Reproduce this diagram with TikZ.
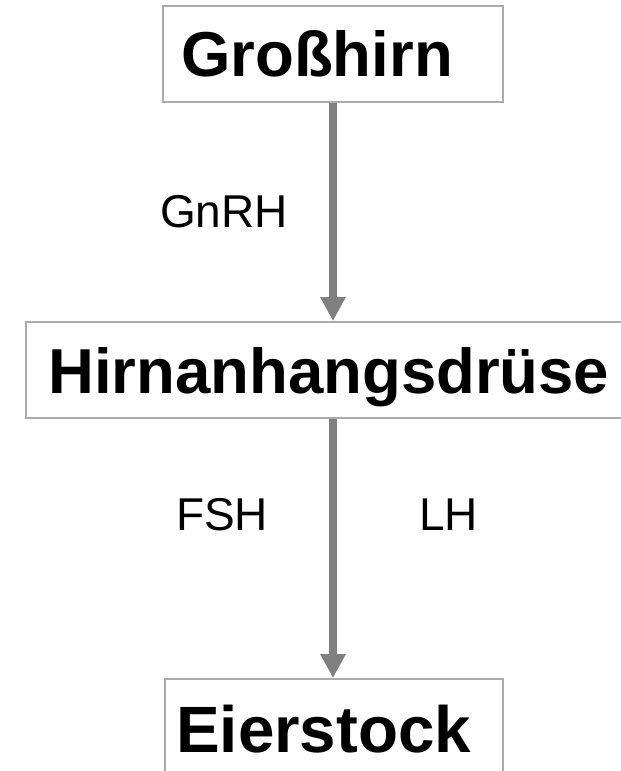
\documentclass[tikz,border=0pt]{standalone}
\usepackage{fontspec}
\setmainfont{Liberation Sans}
\usetikzlibrary{arrows.meta}
\definecolor{boxline}{HTML}{ABABAB}
\definecolor{arrowgray}{HTML}{808080}
\begin{document}
\begin{tikzpicture}[x=1pt,y=-1pt,
  organbox/.style={draw=boxline,line width=2pt,fill=white,inner sep=0pt,
    minimum height=96pt},
  organtext/.style={inner sep=0pt,anchor=base west,font=\bfseries},
  hormone/.style={inner sep=0pt,anchor=base west,
    font=\fontsize{46}{46}\selectfont},
  flow/.style={draw=arrowgray,line width=7.5pt,
    -{Triangle[width=24pt,length=24pt]}}]
  \useasboundingbox (0,0) rectangle (621,771);
  \fill[white] (0,0) rectangle (621,771);

  % boxes
  \node[organbox,minimum width=340pt] (gross) at (333,54) {};
  \node[organbox,minimum width=614pt] (hirn) at (333,370) {};
  \node[organbox,minimum width=338pt] (eier) at (334,727) {};

  % box titles
  \node[organtext,font=\bfseries\fontsize{63.5}{63.5}\selectfont] (tgross) at (181,76) {Großhirn};
  \node[organtext,font=\bfseries\fontsize{63.5}{63.5}\selectfont] (thirn) at (48,393) {Hirnanhangsdrüse};
  \node[organtext,font=\bfseries\fontsize{65.5}{65.5}\selectfont] (teier) at (176,752) {Eierstock};

  % hormone labels
  \node[hormone] (gnrh) at (160,227) {GnRH};
  \node[hormone] (fsh) at (176,530) {FSH};
  \node[hormone] (lh) at (419,530) {LH};

  % connectors
  \draw[flow] (gross.south) -- (hirn.north);
  \draw[flow] (hirn.south) -- (hirn.south |- eier.north);
\end{tikzpicture}
\end{document}
